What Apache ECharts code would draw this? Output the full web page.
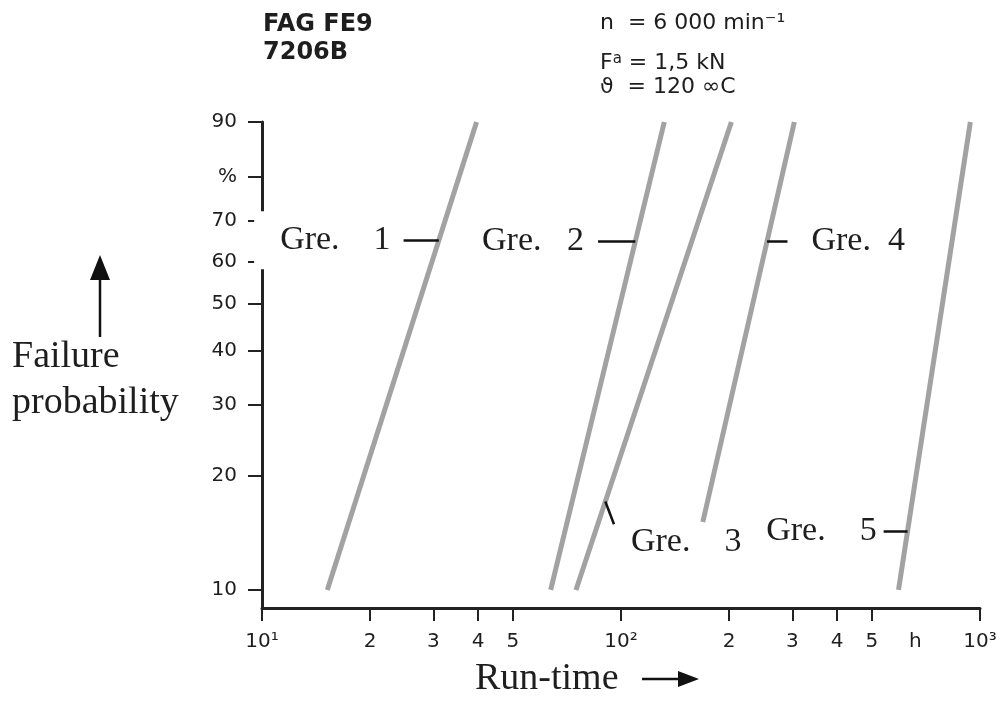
<!DOCTYPE html>
<html>
<head>
<meta charset="utf-8">
<script src="https://cdn.jsdelivr.net/npm/echarts@6/dist/echarts.min.js"></script>
<style>
  html, body { margin: 0; padding: 0; background: #fff; }
  #chart { width: 1002px; height: 702px; }
</style>
</head>
<body>
<div id="chart"></div>
<script>
// Weibull lines, one per group: start / end point (run-time in h, failure probability in %)
const groups = ['Gre.    1', 'Gre.   2', 'Gre.    3', 'Gre.  4', 'Gre.    5']
const lowTime = [15.2, 63.7, 74.9, 169, 593]
const lowProb = [10, 10, 10, 15.2, 10]
const highTime = [39.6, 132, 203, 304, 940]
const highProb = [90, 90, 90, 90, 90]

// leader lines: probability where the leader meets the line, and the free end
const tagProb = [65.2, 65, 17.2, 65, 14.4]
const tagEndTime = [24.8, 86.3, 95.6, 290.9, 539]
const tagEndProb = [65.2, 65, 15.0, 65, 14.4]

// axis ticks
const probTicks = [10, 20, 30, 40, 50, 60, 70, 80, 90]
const timeTicks = [10, 20, 30, 40, 50, 100, 200, 300, 400, 500, 1000]
const timeLabels = [10, 20, 30, 40, 50, 100, 200, 300, 400, 500, 660, 1000]
const timeLabelText = { 10: '10¹', 100: '10²', 1000: '10³', 660: 'h' }

const weib = p => Math.log(-Math.log(1 - p / 100))
const lg = v => Math.log10(v)

const serif = 'Liberation Serif'
const sans = 'DejaVu Sans'

// where each label text sits relative to the free end of its leader
const tagLabel = [
	{ position: 'left', distance: 13, backgroundColor: '#fff', padding: [11, 0, 11, 26] },
	{ position: 'left', distance: 14 },
	{ position: [17, 0] },
	{ position: 'right', distance: 24 },
	{ position: 'left', distance: 7 }
]

const chart = echarts.init(document.getElementById('chart'))

const series = groups.map((name, i) => {
	const x0 = lg(lowTime[i]), y0 = weib(lowProb[i])
	const x1 = lg(highTime[i]), y1 = weib(highProb[i])
	const wt = weib(tagProb[i])
	const xOnLine = x0 + (wt - y0) / (y1 - y0) * (x1 - x0)
	const endPt = [lg(tagEndTime[i]), weib(tagEndProb[i])]
	return {
		name: name,
		type: 'line',
		symbol: 'none',
		z: 3,
		data: [[x0, y0], [x1, y1]],
		lineStyle: { color: '#a2a2a2', width: 5 },
		markLine: {
			silent: true,
			symbol: ['none', 'none'],
			label: { show: false },
			lineStyle: { color: '#111', width: 2.5, type: 'solid' },
			data: [[{ coord: [xOnLine, wt] }, { coord: endPt }]]
		},
		markPoint: {
			silent: true,
			symbol: 'circle',
			symbolSize: 0,
			data: [{ coord: endPt, name: name }],
			label: Object.assign({
				show: true,
				formatter: '{b}',
				fontFamily: serif,
				fontSize: 34,
				lineHeight: 36,
				color: '#1e1e1e'
			}, tagLabel[i])
		}
	}
})

const option = {
	animation: false,
	backgroundColor: '#fff',
	grid: { left: 262, right: 22, top: 122, bottom: 94 },
	xAxis: {
		type: 'value',
		min: 1,
		max: 3,
		splitLine: { show: false },
		axisLine: { onZero: false, lineStyle: { color: '#222', width: 3 } },
		axisTick: {
			customValues: timeTicks.map(lg),
			length: 13,
			lineStyle: { color: '#222', width: 2 }
		},
		axisLabel: {
			customValues: timeLabels.map(lg),
			margin: 24,
			fontFamily: sans,
			fontSize: 20,
			color: '#1e1e1e',
			formatter: v => {
				const t = Math.round(Math.pow(10, v))
				if (timeLabelText[t]) return timeLabelText[t]
				return String(t >= 100 ? t / 100 : t / 10)
			}
		}
	},
	yAxis: {
		type: 'value',
		min: weib(10) - 0.119,
		max: weib(90),
		splitLine: { show: false },
		axisLine: { onZero: false, lineStyle: { color: '#222', width: 3 } },
		axisTick: {
			customValues: probTicks.map(weib),
			length: 14,
			lineStyle: { color: '#222', width: 2 }
		},
		axisLabel: {
			customValues: probTicks.map(weib),
			margin: 25,
			fontFamily: sans,
			fontSize: 20,
			color: '#1e1e1e',
			formatter: v => {
				const p = Math.round(100 * (1 - Math.exp(-Math.exp(v))))
				return p === 80 ? '%' : String(p)
			}
		}
	},
	title: [
		{
			text: 'FAG FE9\n7206B',
			left: 263, top: 11, padding: 0,
			textStyle: { fontFamily: sans, fontWeight: 'bold', fontSize: 24, lineHeight: 28, color: '#1e1e1e' }
		},
		{
			text: 'n  = 6 000 min⁻¹',
			left: 600, top: 12, padding: 0,
			textStyle: { fontFamily: sans, fontWeight: 'normal', fontSize: 22, color: '#1e1e1e' }
		},
		{
			text: 'F{s|a} = 1,5 kN',
			left: 600, top: 52, padding: 0,
			textStyle: {
				fontFamily: sans, fontWeight: 'normal', fontSize: 22, color: '#1e1e1e',
				rich: { s: { fontFamily: sans, fontSize: 15, color: '#1e1e1e', verticalAlign: 'top', padding: [0, 0, 6, 0] } }
			}
		},
		{
			text: 'ϑ  = 120 ∞C',
			left: 600, top: 76, padding: 0,
			textStyle: { fontFamily: sans, fontWeight: 'normal', fontSize: 22, color: '#1e1e1e' }
		}
	],
	graphic: [
		{
			type: 'text', left: 12, top: 334,
			style: { text: 'Failure\nprobability', font: '38px "Liberation Serif"', lineHeight: 46, fill: '#1e1e1e' }
		},
		{
			type: 'line', shape: { x1: 100, y1: 337, x2: 100, y2: 275 },
			style: { stroke: '#111', lineWidth: 2.5 }
		},
		{
			type: 'polygon', shape: { points: [[100, 255], [90, 280], [110, 280]] },
			style: { fill: '#111' }
		},
		{
			type: 'text', left: 475, top: 660,
			style: { text: 'Run-time', font: '38px "Liberation Serif"', fill: '#1e1e1e' }
		},
		{
			type: 'line', shape: { x1: 642, y1: 679, x2: 682, y2: 679 },
			style: { stroke: '#111', lineWidth: 2.5 }
		},
		{
			type: 'polygon', shape: { points: [[699, 679], [678, 671], [678, 687]] },
			style: { fill: '#111' }
		}
	],
	series: series
}

chart.setOption(option)
</script>
</body>
</html>
